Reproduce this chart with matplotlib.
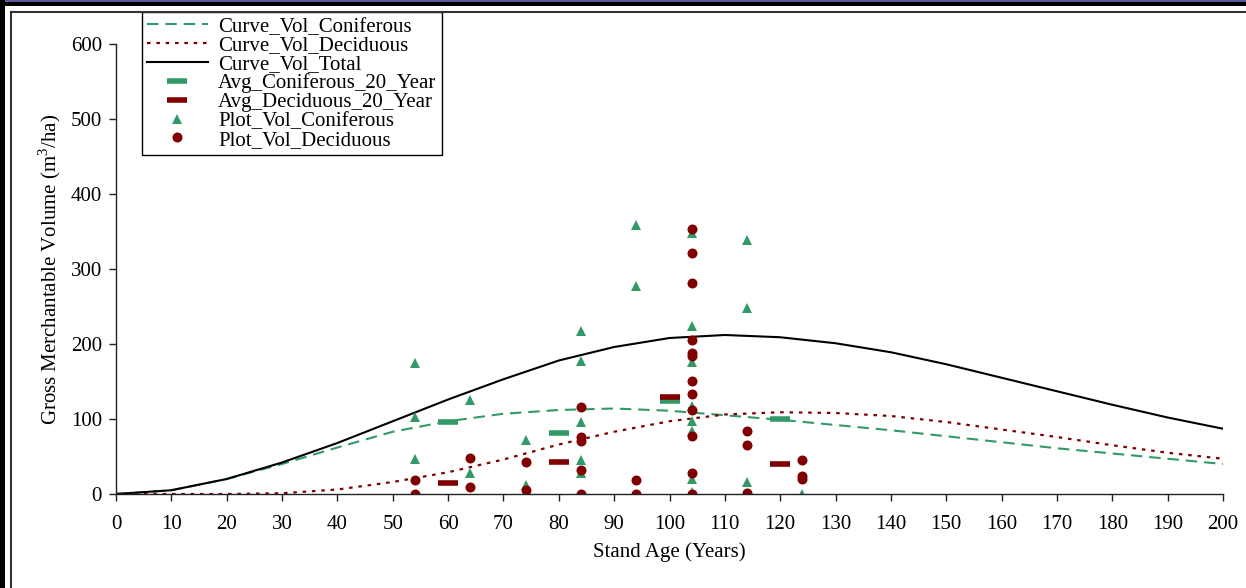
import matplotlib
matplotlib.use("Agg")
import matplotlib.pyplot as plt
from matplotlib.patches import Rectangle
from matplotlib.lines import Line2D

plt.rcParams['font.family'] = ['Liberation Serif', 'DejaVu Serif']
plt.rcParams['mathtext.fontset'] = 'custom'
plt.rcParams['mathtext.rm'] = 'Liberation Serif'

# yield curves (10-year steps)
curve_age = [0, 10, 20, 30, 40, 50, 60, 70, 80, 90, 100,
             110, 120, 130, 140, 150, 160, 170, 180, 190, 200]
curve_conif = [0, 5, 20, 40, 62, 83, 97, 107, 112, 114, 111,
               105, 99, 92, 85, 77, 69, 61, 54, 47, 40]
curve_decid = [0, 0, 0, 1, 6, 16, 29, 46, 66, 83, 97,
               106, 109, 108, 104, 96, 86, 76, 65, 55, 47]
curve_total = [0, 5, 20, 42, 68, 97, 126, 153, 178, 196, 208,
               212, 209, 201, 189, 173, 155, 137, 119, 102, 87]

# 20-year averages
avg_age = [60, 80, 100, 120]
avg_conif = [96, 81, 124, 100]
avg_decid = [15, 43, 129, 40]

# plot volumes
conif_age = [54, 54, 54, 64, 64, 74, 74, 84, 84, 84, 84, 84, 94, 94,
             104, 104, 104, 104, 104, 104, 104, 104, 114, 114, 114, 124]
conif_vol = [175, 103, 47, 125, 28, 72, 12, 217, 177, 96, 45, 28, 359, 277,
             348, 224, 176, 117, 97, 84, 20, 3, 339, 248, 16, 0]
decid_age = [54, 54, 64, 64, 74, 74, 84, 84, 84, 84, 84, 94, 94,
             104, 104, 104, 104, 104, 104, 104, 104, 104, 104, 104, 104,
             114, 114, 114, 124, 124, 124]
decid_vol = [19, 0, 48, 9, 43, 5, 116, 76, 71, 32, 0, 19, 0,
             353, 322, 281, 206, 188, 184, 151, 134, 112, 78, 28, 0,
             84, 66, 1, 45, 24, 20]

green = '#339966'
dred = '#800000'

fig = plt.figure(figsize=(12.46, 5.88), dpi=100)
W, H = 1246, 588
ax = fig.add_axes([116 / W, 1 - 494 / H, (1223 - 116) / W, (494 - 44) / H])

ax.plot(curve_age, curve_conif, color=green, lw=1.5, dashes=(5.5, 3.3), label='Curve_Vol_Coniferous')
ax.plot(curve_age, curve_decid, color=dred, lw=1.6, dashes=(1.6, 2.6), label='Curve_Vol_Deciduous')
ax.plot(curve_age, curve_total, color='black', lw=1.5, label='Curve_Vol_Total')
ax.plot(avg_age, avg_conif, ls='none', marker='_', ms=14, mew=4, color=green, label='Avg_Coniferous_20_Year')
ax.plot(avg_age, avg_decid, ls='none', marker='_', ms=14, mew=4, color=dred, label='Avg_Deciduous_20_Year')
ax.plot(conif_age, conif_vol, ls='none', marker='^', ms=7.5, mew=0, color=green, label='Plot_Vol_Coniferous')
ax.plot(decid_age, decid_vol, ls='none', marker='o', ms=7.2, mew=0, color=dred, label='Plot_Vol_Deciduous')

ax.set_xlim(0, 200)
ax.set_ylim(0, 600)
ax.set_xticks(range(0, 201, 10))
ax.set_yticks(range(0, 601, 100))
for s in ['top', 'right']:
    ax.spines[s].set_visible(False)
for s in ['left', 'bottom']:
    ax.spines[s].set_color('#222222')
    ax.spines[s].set_linewidth(1.0)
ax.tick_params(direction='out', length=5, width=1, color='#222222', labelsize=15, pad=5)
ax.tick_params(axis='x', pad=10)
ax.set_xlabel('Stand Age (Years)', fontsize=15, labelpad=6)
ax.set_ylabel('Gross Merchantable Volume (m$^3$/ha)', fontsize=15, labelpad=6)

leg = ax.legend(loc='upper left', bbox_to_anchor=(142 / W, 1 - 12 / H), bbox_transform=fig.transFigure,
                borderaxespad=0, fontsize=15, frameon=True, fancybox=False, framealpha=1,
                edgecolor='black', handlelength=2.9, handletextpad=0.5, labelspacing=-0.04,
                borderpad=0.25)
leg.get_frame().set_linewidth(1.0)

# outer frame decoration
fig.add_artist(Rectangle((0, 1 - 6 / H), 1, 6 / H, transform=fig.transFigure, color='black', lw=0))
fig.add_artist(Rectangle((0, 1 - 2 / H), 1, 2 / H, transform=fig.transFigure, color='#5a5a9a', lw=0))
fig.add_artist(Rectangle((0, 0), 5 / W, 1, transform=fig.transFigure, color='black', lw=0))
fig.add_artist(Line2D([10.5 / W, 1], [1 - 11.5 / H, 1 - 11.5 / H], transform=fig.transFigure, color='#333333', lw=1.5))
fig.add_artist(Line2D([10.5 / W, 10.5 / W], [0, 1 - 11.5 / H], transform=fig.transFigure, color='#333333', lw=1.5))

fig.savefig('out.png', dpi=100)
